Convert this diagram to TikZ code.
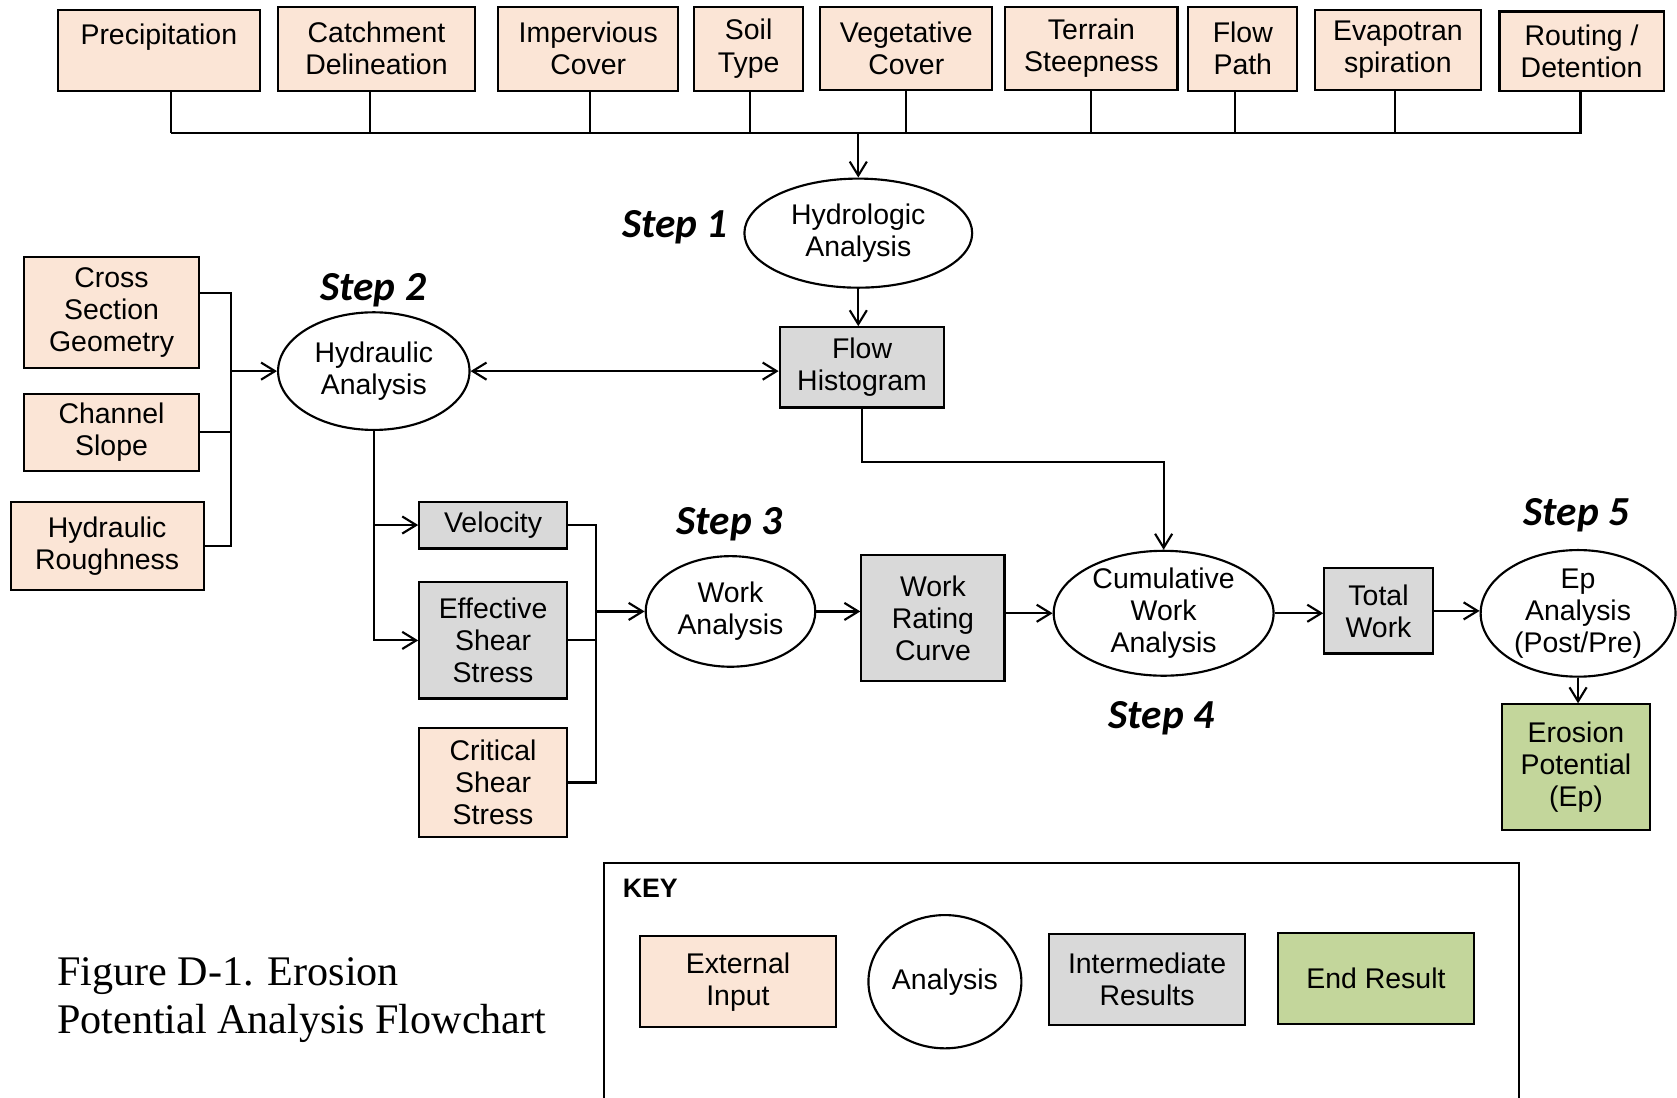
\documentclass[tikz,border=0pt]{standalone}
\usepackage{fontspec}
\setmainfont{Liberation Sans}
\newfontfamily\capfont{Liberation Serif}
\newfontfamily\stepfont{Carlito}
\usetikzlibrary{shapes.geometric,arrows.meta}
\definecolor{peach}{RGB}{251,229,214}
\definecolor{midgray}{RGB}{217,217,217}
\definecolor{endgreen}{RGB}{195,214,155}

\begin{document}
\begin{tikzpicture}[x=0.5pt,y=-0.5pt,
  txt/.style={font=\fontsize{13.3}{15}\selectfont,align=center,inner sep=0pt},
  inbox/.style={txt,draw,line width=1pt,fill=peach},
  midbox/.style={txt,draw,line width=1pt,fill=midgray},
  endbox/.style={txt,draw,line width=1pt,fill=endgreen},
  ana/.style={txt,draw,line width=1pt,ellipse,fill=white},
  steplbl/.style={font=\stepfont\bfseries\itshape\fontsize{19.3}{22}\selectfont},
  link/.style={line width=1pt},
  >={Straight Barb[length=6.5pt,width=8pt]}]
  \useasboundingbox (0,0) rectangle (1568,1026);
  \node[inbox,minimum width=94.5pt,minimum height=37.7pt] (prec) at (148.5,47.1) {Precipitation\\~};
  \node[inbox,minimum width=92pt,minimum height=39.3pt] (catch) at (352,45.5) {Catchment\\Delineation};
  \node[inbox,minimum width=84pt,minimum height=39.3pt] (imp) at (550,45.5) {Impervious\\Cover};
  \node[inbox,minimum width=51pt,minimum height=39.3pt] (soil) at (700,45.5) {Soil\\Type};
  \node[inbox,minimum width=80.4pt,minimum height=38.9pt] (veg) at (847.4,45.1) {Vegetative\\Cover};
  \node[inbox,minimum width=80.5pt,minimum height=38.9pt] (terr) at (1020.5,45.1) {Terrain\\Steepness};
  \node[inbox,minimum width=51pt,minimum height=39.3pt] (flow) at (1162,45.5) {Flow\\Path};
  \node[inbox,minimum width=77.4pt,minimum height=37.3pt] (evap) at (1307,46.7) {Evapotran\\spiration};
  \node[inbox,minimum width=76.8pt,minimum height=37pt] (rout) at (1478.8,47.8) {Routing /\\Detention};
  \coordinate (busw) at (160,124.7);
  \coordinate (buse) at (1479,124.7);
  \draw[link] (busw) -- (buse);
  \foreach \b/\x in {prec/160,catch/345.6,imp/552,soil/701,veg/846.8,terr/1020,flow/1154.8,evap/1304.5,rout/1477.8}
    \draw[link] (\b.south -| \x,0) -- (\x,0 |- busw);

  \node[ana,minimum width=106.5pt,minimum height=51pt] (hydro) at (802.5,218) {Hydrologic\\Analysis};
  \node[steplbl] (s1) at (631,212) {Step 1};
  \draw[link,->] (hydro.north |- busw) -- (hydro.north);
  \node[midbox,minimum width=77pt,minimum height=37.5pt] (flowh) at (806,343.5) {Flow\\Histogram};
  \draw[link,->] (hydro.south) -- (hydro.south |- flowh.north);

  \node[ana,minimum width=89.5pt,minimum height=55pt] (hyd) at (349.5,347) {Hydraulic\\Analysis};
  \node[steplbl] (s2) at (349,271) {Step 2};
  \node[inbox,minimum width=81.8pt,minimum height=52pt] (cross) at (104.3,292) {Cross\\Section\\Geometry};
  \node[inbox,minimum width=81.8pt,minimum height=36pt] (chan) at (104.3,404) {Channel\\Slope};
  \node[inbox,minimum width=90.2pt,minimum height=41.4pt] (rough) at (100.2,510.4) {Hydraulic\\Roughness};
  \coordinate (lb) at (216,347);
  \draw[link] ([yshift=9.2pt]cross.east) -| (lb) |- (rough.east);
  \draw[link] (chan.east) -- (chan.east -| lb);
  \draw[link,->] (lb) -- (hyd.west);
  \draw[link,<->] (hyd.east) -- (hyd.east -| flowh.west);

  \node[midbox,minimum width=69pt,minimum height=21.9pt] (vel) at (461,490.9) {Velocity};
  \node[midbox,minimum width=69pt,minimum height=54.3pt] (eff) at (461,598.8) {Effective\\Shear\\Stress};
  \node[inbox,minimum width=69pt,minimum height=50.7pt] (crit) at (461,731.7) {Critical\\Shear\\Stress};
  \draw[link,->] (hyd.south) |- (vel.west);
  \draw[link,->] (hyd.south) |- (eff.west);

  \node[ana,minimum width=79.3pt,minimum height=51.7pt] (work) at (683,571.7) {Work\\Analysis};
  \node[steplbl] (s3) at (682,490) {Step 3};
  \coordinate (rb) at (557.4,571.7);
  \draw[link] (vel.east) -| (rb) |- (crit.east);
  \draw[link] (eff.east) -- (eff.east -| rb);
  \draw[link,->] (rb) -- (work.west);
  \node[midbox,minimum width=66.9pt,minimum height=58.9pt] (wrc) at (872.3,577.9) {Work\\Rating\\Curve};
  \draw[link,->] (work.east) -- (work.east -| wrc.west);
  \node[ana,inner ysep=-1.5pt,minimum width=102.8pt,minimum height=58.4pt] (cum) at (1088,573.4) {Cumulative\\Work\\Analysis};
  \node[steplbl] (s4) at (1086,671.7) {Step 4};
  \draw[link,->] (wrc.east |- cum.west) -- (cum.west);
  \draw[link,->] (flowh.south) -- ++(0,50) -| (cum.north);
  \node[midbox,minimum width=50.7pt,minimum height=39.8pt] (total) at (1288.9,571.2) {Total\\Work};
  \draw[link,->] (cum.east) -- (cum.east -| total.west);
  \node[ana,inner ysep=-1.5pt,minimum width=91.1pt,minimum height=59.2pt] (ep) at (1475.5,573.5) {Ep\\Analysis\\(Post/Pre)};
  \node[steplbl] (s5) at (1474,481.6) {Step 5};
  \draw[link,->] (total.east) -- (total.east -| ep.west);
  \node[endbox,minimum width=69.1pt,minimum height=58.8pt] (ero) at (1473.5,717.4) {Erosion\\Potential\\(Ep)};
  \draw[link,->] (ep.south) -- (ep.south |- ero.north);

  \draw[line width=1pt] (565,1030) |- (1420,807.2) -- (1420,1030);
  \node[font=\bfseries\fontsize{12.5}{14}\selectfont] (key) at (608,831) {KEY};
  \node[inbox,minimum width=92pt,minimum height=42.7pt] (kext) at (690,917.9) {External\\Input};
  \node[ana,minimum width=71.5pt,minimum height=62.3pt] (kana) at (883.5,917.9) {Analysis};
  \node[midbox,minimum width=91.5pt,minimum height=42.6pt] (kint) at (1072.5,915.9) {Intermediate\\Results};
  \node[endbox,minimum width=91.5pt,minimum height=42.4pt] (kend) at (1286.5,915) {End Result};
  \node[font=\capfont\fontsize{19.7}{22.5}\selectfont,align=left,anchor=west,inner sep=0pt] (cap) at (53,935) {Figure D-1. Erosion\\Potential Analysis Flowchart};
\end{tikzpicture}
\end{document}
